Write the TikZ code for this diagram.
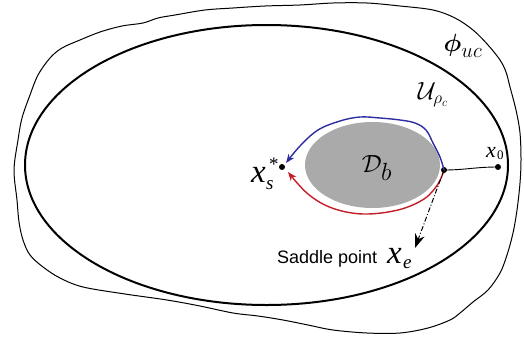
\documentclass[tikz,border=0pt]{standalone}
\usepackage{amsmath}
\usepackage{fontspec}
\newfontfamily\serifit{Liberation Serif Italic}
\newfontfamily\serifup{Liberation Serif}
\newfontfamily\sansf{Liberation Sans}
\usetikzlibrary{arrows.meta}
\definecolor{pathblue}{RGB}{45,45,160}
\definecolor{pathred}{RGB}{195,30,40}
\definecolor{regiongray}{RGB}{170,170,170}
\tikzset{
  dotnode/.style={circle,fill=black,inner sep=0pt,minimum size=6pt},
  lbl/.style={inner sep=0pt,anchor=base west},
}
\begin{document}
\begin{tikzpicture}[x=1pt,y=-1pt]
\useasboundingbox (0,0) rectangle (524,340);
% outer wavy region phi_uc
\draw[line width=1pt] plot[smooth cycle,tension=0.55] coordinates {
 (17,200) (14,170) (18,140) (22,118) (30,95) (38,75) (50,58) (62,48)
 (80,40) (100,32) (122,26) (143,23) (158,18) (175,15) (205,10) (233,8)
 (265,6) (300,5) (333,3) (367,3) (400,6) (433,10) (455,18) (473,30)
 (488,45) (500,60) (506,72) (510,87) (516,110) (520,133) (521,160)
 (520,183) (517,210) (513,233) (507,255) (500,273) (488,290) (473,302)
 (460,313) (450,320) (428,328) (400,333) (367,333) (333,330) (308,325)
 (283,320) (258,316) (233,313) (200,306) (167,300) (125,294) (83,287)
 (60,278) (43,267) (30,255) (23,240) (19,222)};
% level set U_rho_c
\draw[line width=2pt] (266.5,165) ellipse [x radius=241.5, y radius=140];
% D_b
\fill[regiongray] (372.5,165) ellipse [x radius=67.5, y radius=43];
% points
\node[dotnode] (xs) at (282,167) {};
\node[dotnode] (xr) at (444,170) {};
\node[dotnode] (x0) at (498,167) {};
% connector x0 - xr
\draw[line width=0.9pt] (xr.center) .. controls (465,170) and (475,167) .. (x0.center);
% blue path
\draw[pathblue,line width=1.4pt,-{Stealth[length=9pt,width=7pt]}] plot[smooth,tension=0.6] coordinates {
 (xr.center) (440,157) (433,143) (426,130) (415,123) (400,120) (380,118) (360,117)
 (340,121) (318,130) (300,146) (286,163)};
% red path
\draw[pathred,line width=1.4pt,-{Stealth[length=9pt,width=7pt]}] plot[smooth,tension=0.6] coordinates {
 (xr.center) (438,184) (424,199) (398,210) (363,214) (332,208) (308,194) (288,172)};
% saddle arrow
\draw[line width=1pt,dash pattern=on 5pt off 2pt on 1pt off 2pt,-{Stealth[length=14pt,width=10pt]}] (xr.center) -- (415,248);
% labels
\node[lbl] (lxs) at (251,182) {\serifit\fontsize{33}{33}\selectfont x};
\node[lbl] (lxss) at (266,189) {\serifit\fontsize{19}{19}\selectfont s};
\node[lbl] (lxsst) at (269,170) {\serifup\fontsize{19}{19}\selectfont *};
\node[lbl] (lx0) at (486,157) {\serifit\fontsize{22}{22}\selectfont x};
\node[lbl] (lx00) at (497,159) {\serifup\fontsize{13}{13}\selectfont 0};
\node[lbl] (lxe) at (387,263) {\serifit\fontsize{33}{33}\selectfont x};
\node[lbl] (lxee) at (403,268) {\serifit\fontsize{19}{19}\selectfont e};
\node[lbl] (saddle) at (277,263) {\sansf\fontsize{18}{18}\selectfont Saddle point};
\node (db) at (377,168) {\fontsize{38}{38}\selectfont$\mathcal{D}_b$};
\node (phi) at (463,46) {\fontsize{28}{28}\selectfont$\boldsymbol{\phi}_{uc}$};
\node (urho) at (433,95) {\fontsize{24}{24}\selectfont$\mathcal{U}_{\rho_c}$};
\end{tikzpicture}
\end{document}
